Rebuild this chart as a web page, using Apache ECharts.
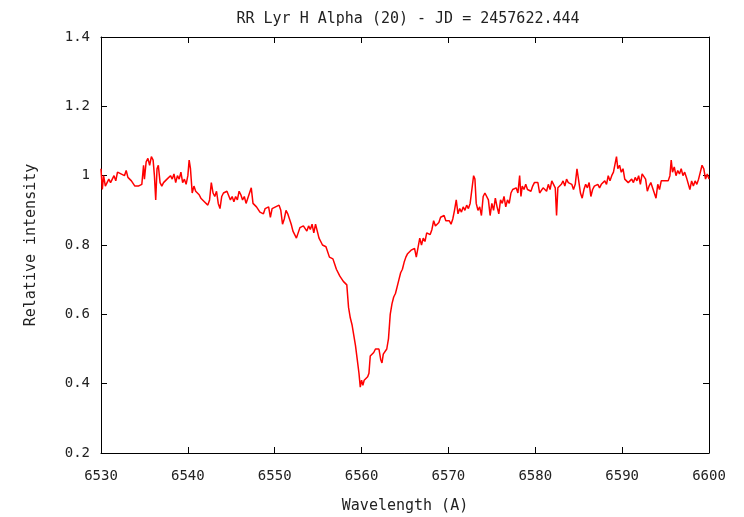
<!DOCTYPE html>
<html>
<head>
<meta charset="utf-8">
<script src="https://cdn.jsdelivr.net/npm/echarts@6/dist/echarts.min.js"></script>
<style>
  html, body { margin: 0; padding: 0; background: #fff; }
  #chart { width: 744px; height: 517px; }
</style>
</head>
<body>
<div id="chart"></div>
<script>
// spectrum
const wavelengths = [
  6530.0, 6530.15, 6530.3, 6530.5, 6530.7, 6530.9, 6531.1, 6531.3, 6531.5, 6531.7, 6531.9,
  6532.1, 6532.3, 6532.5, 6532.7, 6532.9, 6533.1, 6533.3, 6533.5, 6533.7, 6533.9,
  6534.1, 6534.3, 6534.5, 6534.7, 6534.9, 6535.0, 6535.2, 6535.4, 6535.6, 6535.8,
  6536.0, 6536.15, 6536.3, 6536.45, 6536.6, 6536.8, 6537.0, 6537.2, 6537.4, 6537.6, 6537.8,
  6538.0, 6538.2, 6538.4, 6538.6, 6538.8, 6539.0, 6539.2, 6539.4, 6539.6, 6539.8,
  6540.0, 6540.15, 6540.3, 6540.5, 6540.7, 6540.9, 6541.1, 6541.3, 6541.5, 6541.7, 6541.9,
  6542.1, 6542.3, 6542.5, 6542.7, 6542.9, 6543.1, 6543.3, 6543.5, 6543.7, 6543.9,
  6544.1, 6544.3, 6544.5, 6544.7, 6544.9, 6545.1, 6545.3, 6545.5, 6545.7, 6545.9,
  6546.1, 6546.3, 6546.5, 6546.7, 6546.9, 6547.1, 6547.3, 6547.5, 6547.7, 6547.9,
  6548.1, 6548.3, 6548.5, 6548.7, 6548.9, 6549.1, 6549.3, 6549.5, 6549.7, 6549.9,
  6550.1, 6550.3, 6550.5, 6550.7, 6550.9, 6551.1, 6551.3, 6551.5, 6551.7, 6551.9,
  6552.1, 6552.3, 6552.5, 6552.7, 6552.9, 6553.1, 6553.3, 6553.5, 6553.7, 6553.9,
  6554.1, 6554.3, 6554.5, 6554.7, 6554.9, 6555.1, 6555.3, 6555.5, 6555.7, 6555.9,
  6556.1, 6556.3, 6556.5, 6556.7, 6556.9, 6557.1, 6557.3, 6557.5, 6557.7, 6557.9,
  6558.1, 6558.3, 6558.5, 6558.7, 6558.9, 6559.1, 6559.3, 6559.5, 6559.7, 6559.85,
  6560.0, 6560.15, 6560.3, 6560.5, 6560.7, 6560.85, 6561.0, 6561.2, 6561.4, 6561.6, 6561.8,
  6562.0, 6562.2, 6562.35, 6562.5, 6562.7, 6562.9, 6563.1, 6563.3, 6563.5, 6563.7, 6563.9,
  6564.1, 6564.3, 6564.5, 6564.7, 6564.9, 6565.1, 6565.3, 6565.5, 6565.7, 6565.9,
  6566.1, 6566.3, 6566.5, 6566.7, 6566.9, 6567.1, 6567.3, 6567.5, 6567.7, 6567.9,
  6568.1, 6568.3, 6568.5, 6568.7, 6568.9, 6569.1, 6569.3, 6569.5, 6569.7, 6569.9,
  6570.1, 6570.3, 6570.5, 6570.7, 6570.9, 6571.1, 6571.3, 6571.5, 6571.7, 6571.9,
  6572.1, 6572.3, 6572.5, 6572.7, 6572.9, 6573.05, 6573.2, 6573.4, 6573.6, 6573.8,
  6574.0, 6574.2, 6574.4, 6574.6, 6574.8, 6575.0, 6575.2, 6575.4, 6575.6, 6575.8,
  6576.0, 6576.2, 6576.4, 6576.6, 6576.8, 6577.0, 6577.2, 6577.4, 6577.6, 6577.8,
  6578.0, 6578.2, 6578.35, 6578.5, 6578.7, 6578.9, 6579.1, 6579.3, 6579.5, 6579.7, 6579.9,
  6580.1, 6580.3, 6580.5, 6580.7, 6580.9, 6581.1, 6581.3, 6581.5, 6581.7, 6581.9,
  6582.1, 6582.3, 6582.45, 6582.6, 6582.8, 6583.0, 6583.2, 6583.4, 6583.6, 6583.8,
  6584.0, 6584.2, 6584.4, 6584.6, 6584.8, 6585.0, 6585.2, 6585.4, 6585.6, 6585.8,
  6586.0, 6586.2, 6586.4, 6586.6, 6586.8, 6587.0, 6587.2, 6587.4, 6587.6, 6587.8,
  6588.0, 6588.2, 6588.4, 6588.6, 6588.8, 6589.0, 6589.2, 6589.35, 6589.5, 6589.7, 6589.9,
  6590.1, 6590.3, 6590.5, 6590.7, 6590.9, 6591.1, 6591.3, 6591.5, 6591.7, 6591.9,
  6592.1, 6592.3, 6592.5, 6592.7, 6592.9, 6593.1, 6593.3, 6593.5, 6593.7, 6593.9,
  6594.1, 6594.3, 6594.5, 6594.7, 6594.9, 6595.1, 6595.3, 6595.5, 6595.65, 6595.8,
  6596.0, 6596.2, 6596.4, 6596.6, 6596.8, 6597.0, 6597.2, 6597.4, 6597.6, 6597.8,
  6598.0, 6598.2, 6598.4, 6598.6, 6598.8, 6599.0, 6599.2, 6599.4, 6599.6, 6599.8, 6600.0
];

const intensity = [
  1.02, 0.96, 1.00, 0.97, 0.98, 0.99, 0.98, 0.99, 1.00, 0.985, 1.01,
  1.015, 1.005, 1.01, 1.00, 1.015, 0.995, 1.00, 0.985, 0.99, 0.97,
  0.965, 0.97, 0.965, 0.975, 1.03, 0.99, 1.04, 1.05, 1.03, 1.055,
  1.045, 1.00, 0.93, 1.02, 1.03, 0.98, 0.97, 0.98, 0.975, 0.99, 0.985,
  1.00, 0.99, 1.005, 0.98, 1.00, 0.99, 1.01, 0.98, 0.99, 0.975,
  1.00, 1.045, 1.02, 0.95, 0.97, 0.955, 0.96, 0.945, 0.935, 0.94, 0.925,
  0.93, 0.915, 0.93, 0.98, 0.95, 0.94, 0.955, 0.92, 0.905, 0.94,
  0.95, 0.945, 0.955, 0.95, 0.93, 0.94, 0.925, 0.94, 0.93, 0.955,
  0.945, 0.93, 0.94, 0.92, 0.935, 0.93, 0.965, 0.92, 0.915, 0.91,
  0.905, 0.895, 0.90, 0.89, 0.905, 0.90, 0.91, 0.88, 0.905, 0.91,
  0.91, 0.905, 0.915, 0.90, 0.86, 0.875, 0.90, 0.89, 0.895, 0.86,
  0.84, 0.845, 0.82, 0.835, 0.85, 0.845, 0.855, 0.85, 0.84, 0.855,
  0.845, 0.86, 0.835, 0.86, 0.84, 0.82, 0.81, 0.80, 0.80, 0.795,
  0.79, 0.765, 0.77, 0.76, 0.745, 0.73, 0.725, 0.71, 0.705, 0.695,
  0.69, 0.685, 0.62, 0.59, 0.57, 0.54, 0.51, 0.47, 0.43, 0.39,
  0.41, 0.395, 0.41, 0.405, 0.42, 0.43, 0.48, 0.485, 0.49, 0.50, 0.505,
  0.50, 0.47, 0.46, 0.485, 0.49, 0.50, 0.53, 0.60, 0.63, 0.65, 0.66,
  0.68, 0.70, 0.72, 0.73, 0.75, 0.765, 0.775, 0.78, 0.785, 0.78,
  0.79, 0.765, 0.76, 0.82, 0.80, 0.82, 0.81, 0.835, 0.84, 0.83,
  0.845, 0.87, 0.855, 0.85, 0.865, 0.88, 0.875, 0.885, 0.87, 0.865,
  0.87, 0.86, 0.875, 0.90, 0.93, 0.89, 0.905, 0.895, 0.91, 0.90,
  0.915, 0.905, 0.92, 0.915, 1.00, 0.99, 0.92, 0.90, 0.91, 0.885,
  0.94, 0.95, 0.945, 0.93, 0.885, 0.92, 0.90, 0.935, 0.91, 0.89,
  0.93, 0.92, 0.94, 0.91, 0.93, 0.92, 0.95, 0.96, 0.955, 0.965,
  0.95, 1.00, 0.94, 0.97, 0.96, 0.975, 0.96, 0.965, 0.955, 0.97, 0.98,
  0.975, 0.98, 0.95, 0.945, 0.965, 0.96, 0.955, 0.975, 0.96, 0.985,
  0.975, 0.965, 0.885, 0.965, 0.97, 0.975, 0.985, 0.97, 0.99, 0.98,
  0.985, 0.975, 0.96, 0.975, 1.02, 0.985, 0.95, 0.935, 0.96, 0.975,
  0.965, 0.98, 0.94, 0.96, 0.97, 0.965, 0.975, 0.965, 0.975, 0.97,
  0.985, 0.975, 1.00, 0.985, 1.00, 1.01, 1.005, 1.055, 1.02, 1.03, 1.01,
  1.02, 0.99, 0.985, 0.98, 0.985, 0.99, 0.98, 0.995, 0.985, 1.00,
  0.975, 1.005, 1.01, 0.99, 0.955, 0.97, 0.98, 0.985, 0.95, 0.935,
  0.975, 0.96, 0.985, 0.98, 0.985, 0.99, 0.985, 1.00, 1.045, 1.01,
  1.025, 1.00, 1.015, 1.005, 1.02, 1.00, 1.01, 0.995, 0.99, 0.96,
  0.985, 0.97, 0.985, 0.975, 0.99, 0.985, 1.03, 1.02, 0.99, 1.005, 0.99
];

const titleText = 'RR Lyr H Alpha (20) - JD = 2457622.444';
const xName = 'Wavelength (A)';
const yName = 'Relative intensity';

const chart = echarts.init(document.getElementById('chart'));
const font = 'DejaVu Sans Mono';
const ink = '#000';
const textColor = '#222';

const frameAxis = {
  axisLine: { show: true, onZero: false, lineStyle: { color: ink, width: 1 } },
  axisTick: { show: true, inside: true, length: 6, lineStyle: { color: ink } },
  splitLine: { show: false }
};

chart.setOption({
  animation: false,
  title: {
    text: titleText,
    left: 403,
    top: 7,
    textAlign: 'center',
    textStyle: { fontFamily: font, fontSize: 15, fontWeight: 'normal', color: textColor }
  },
  grid: {
    left: 101, right: 35, top: 37, bottom: 64,
    containLabel: false,
    outerBoundsMode: 'none'
  },
  xAxis: [
    Object.assign({
      type: 'value',
      min: 6530,
      max: 6600,
      interval: 10,
      name: xName,
      nameLocation: 'middle',
      nameGap: 46,
      nameTextStyle: { fontFamily: font, fontSize: 15, color: textColor },
      axisLabel: {
        fontFamily: font, fontSize: 14, color: textColor, margin: 16,
        formatter: v => String(v)
      }
    }, frameAxis),
    Object.assign({
      type: 'value',
      position: 'top',
      min: 6530,
      max: 6600,
      interval: 10,
      axisLabel: { show: false }
    }, frameAxis)
  ],
  yAxis: [
    Object.assign({
      type: 'value',
      min: 0.2,
      max: 1.4,
      interval: 0.2,
      name: yName,
      nameLocation: 'middle',
      nameGap: 62,
      nameRotate: 90,
      nameTextStyle: { fontFamily: font, fontSize: 15, color: textColor },
      axisLabel: { fontFamily: font, fontSize: 14, color: textColor, margin: 11 }
    }, frameAxis),
    Object.assign({
      type: 'value',
      position: 'right',
      min: 0.2,
      max: 1.4,
      interval: 0.2,
      axisLabel: { show: false }
    }, frameAxis)
  ],
  series: [
    {
      type: 'line',
      data: wavelengths.map((w, i) => [w, intensity[i]]),
      showSymbol: false,
      lineStyle: { color: '#ff0000', width: 1.5 },
      clip: true
    }
  ]
});
</script>
</body>
</html>
